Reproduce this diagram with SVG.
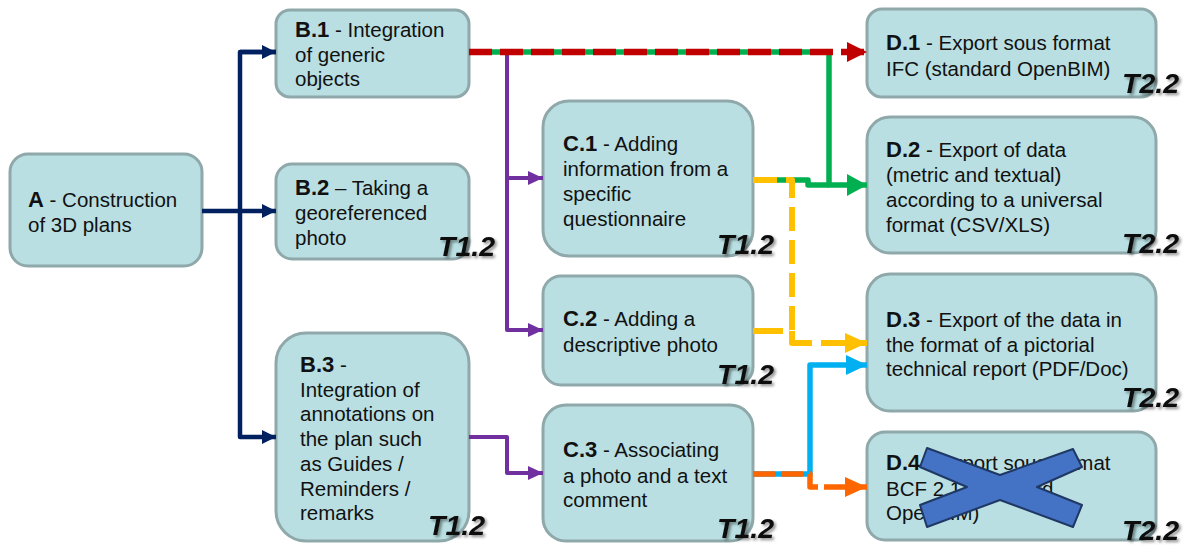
<svg xmlns="http://www.w3.org/2000/svg" width="1189" height="546" viewBox="0 0 1189 546">
<style>
.box{fill:#b9dfe2;stroke:#8fa8aa;stroke-width:3}
.t{font-family:"Liberation Sans",Arial,sans-serif;font-size:20.5px;fill:#111}
.t .b{font-weight:bold;font-size:22px}
.tag{font-family:"Liberation Sans",Arial,sans-serif;font-size:28.5px;font-weight:bold;font-style:italic;fill:#111;filter:url(#sh)}
.ln{fill:none;stroke-linejoin:round}
</style>
<defs>
<filter id="sh" x="-20%" y="-30%" width="150%" height="170%">
<feDropShadow dx="2" dy="2" stdDeviation="1.4" flood-color="#000" flood-opacity="0.45"/>
</filter>
<marker id="aN" markerUnits="userSpaceOnUse" markerWidth="15" markerHeight="15" refX="14" refY="7" orient="auto"><path d="M0,0 L14,7 L0,14 Z" fill="#002060"/></marker>
<marker id="aP" markerUnits="userSpaceOnUse" markerWidth="16" markerHeight="15" refX="15" refY="7" orient="auto"><path d="M0,0 L15,7 L0,14 Z" fill="#7030a0"/></marker>
<marker id="aR" markerUnits="userSpaceOnUse" markerWidth="21" markerHeight="21" refX="20" refY="10" orient="auto"><path d="M0,0 L20,10 L0,20 Z" fill="#c00000"/></marker>
<marker id="aG" markerUnits="userSpaceOnUse" markerWidth="21" markerHeight="23" refX="20" refY="11" orient="auto"><path d="M0,0 L20,11 L0,22 Z" fill="#00b050"/></marker>
<marker id="aY" markerUnits="userSpaceOnUse" markerWidth="23" markerHeight="21" refX="22" refY="10" orient="auto"><path d="M0,0 L22,10 L0,20 Z" fill="#ffc000"/></marker>
<marker id="aB" markerUnits="userSpaceOnUse" markerWidth="22" markerHeight="21" refX="21" refY="10" orient="auto"><path d="M0,0 L21,10 L0,20 Z" fill="#00b0f0"/></marker>
<marker id="aO" markerUnits="userSpaceOnUse" markerWidth="23" markerHeight="21" refX="22" refY="10" orient="auto"><path d="M0,0 L22,10 L0,20 Z" fill="#ff6600"/></marker>
</defs>

<g id="nA"><rect class="box" x="10" y="154" width="192" height="112" rx="18"/>
<text class="t" x="28" y="207"><tspan class="b">A</tspan> - Construction</text>
<text class="t" x="28" y="232">of 3D plans</text></g>

<g id="nB1"><rect class="box" x="276" y="10" width="193" height="87" rx="14"/>
<text class="t" x="295" y="37"><tspan class="b">B.1</tspan> - Integration</text>
<text class="t" x="295" y="62">of generic</text>
<text class="t" x="295" y="86">objects</text></g>

<g id="nB2"><rect class="box" x="276" y="164" width="193" height="95" rx="16"/>
<text class="t" x="295" y="195"><tspan class="b">B.2</tspan> – Taking a</text>
<text class="t" x="295" y="220">georeferenced</text>
<text class="t" x="295" y="245">photo</text>
<text class="tag" x="438" y="256">T1.2</text></g>

<g id="nB3"><rect class="box" x="276" y="333" width="193" height="208" rx="30"/>
<text class="t" x="300" y="372"><tspan class="b">B.3</tspan> -</text>
<text class="t" x="300" y="397">Integration of</text>
<text class="t" x="300" y="421">annotations on</text>
<text class="t" x="300" y="446">the plan such</text>
<text class="t" x="300" y="471">as Guides /</text>
<text class="t" x="300" y="496">Reminders /</text>
<text class="t" x="300" y="520">remarks</text>
<text class="tag" x="428" y="535">T1.2</text></g>

<g id="nC1"><rect class="box" x="543" y="101" width="210" height="155" rx="26"/>
<text class="t" x="563" y="151"><tspan class="b">C.1</tspan> - Adding</text>
<text class="t" x="563" y="176">information from a</text>
<text class="t" x="563" y="201">specific</text>
<text class="t" x="563" y="226">questionnaire</text>
<text class="tag" x="717" y="254">T1.2</text></g>

<g id="nC2"><rect class="box" x="543" y="276" width="210" height="109" rx="18"/>
<text class="t" x="563" y="326"><tspan class="b">C.2</tspan> - Adding a</text>
<text class="t" x="563" y="352">descriptive photo</text>
<text class="tag" x="717" y="384">T1.2</text></g>

<g id="nC3"><rect class="box" x="543" y="405" width="210" height="136" rx="23"/>
<text class="t" x="563" y="457"><tspan class="b">C.3</tspan> - Associating</text>
<text class="t" x="563" y="483">a photo and a text</text>
<text class="t" x="563" y="507">comment</text>
<text class="tag" x="717" y="538">T1.2</text></g>

<g id="nD1"><rect class="box" x="867" y="9" width="289" height="88" rx="15"/>
<text class="t" x="886" y="50"><tspan class="b">D.1</tspan> - Export sous format</text>
<text class="t" x="886" y="76">IFC (standard OpenBIM)</text>
<text class="tag" x="1122" y="93">T2.2</text></g>

<g id="nD2"><rect class="box" x="867" y="117" width="289" height="136" rx="23"/>
<text class="t" x="886" y="157"><tspan class="b">D.2</tspan> - Export of data</text>
<text class="t" x="886" y="182">(metric and textual)</text>
<text class="t" x="886" y="207">according to a universal</text>
<text class="t" x="886" y="232">format (CSV/XLS)</text>
<text class="tag" x="1122" y="253">T2.2</text></g>

<g id="nD3"><rect class="box" x="867" y="274" width="289" height="137" rx="23"/>
<text class="t" x="886" y="327"><tspan class="b">D.3</tspan> - Export of the data in</text>
<text class="t" x="886" y="352">the format of a pictorial</text>
<text class="t" x="886" y="376">technical report (PDF/Doc)</text>
<text class="tag" x="1122" y="407">T2.2</text></g>

<g id="nD4"><rect class="box" x="867" y="432" width="289" height="108" rx="18"/>
<text class="t" x="886" y="470"><tspan class="b">D.4</tspan> - Export sous format</text>
<text class="t" x="886" y="496">BCF 2.1 (standard</text>
<text class="t" x="886" y="520">OpenBIM)</text>
<path d="M927,448 L1000,475 L1073,449 L1082,467 L1037,487 L1082,505 L1073,527 L1000,500 L927,527 L920,505 L967,487 L920,467 Z" fill="#4472c4" stroke="#1f3864" stroke-width="2" stroke-linejoin="round"/>
<text class="tag" x="1122" y="540">T2.2</text></g>

<g id="connectors">
<!-- navy -->
<path class="ln" d="M202,211 H276" stroke="#002060" stroke-width="4.5" marker-end="url(#aN)"/>
<path class="ln" d="M276,52 H240 V437 H276" stroke="#002060" stroke-width="4.5" marker-end="url(#aN)"/>
<path class="ln" d="M240,52 H276" stroke="#002060" stroke-width="4.5" marker-end="url(#aN)"/>
<!-- purple -->
<path class="ln" d="M507,52 V330 H543" stroke="#7030a0" stroke-width="4" marker-end="url(#aP)"/>
<path class="ln" d="M507,178 H543" stroke="#7030a0" stroke-width="4" marker-end="url(#aP)"/>
<path class="ln" d="M469,437 H507 V473 H543" stroke="#7030a0" stroke-width="4" marker-end="url(#aP)"/>
<!-- green -->
<path class="ln" d="M469,52 H829 V185 H867" stroke="#00b050" stroke-width="5.5" marker-end="url(#aG)"/>
<path class="ln" d="M753,180 H808 V185 H829" stroke="#00b050" stroke-width="5.5"/>
<!-- red dashed -->
<path class="ln" d="M469,52 H867" stroke="#c00000" stroke-width="6.5" stroke-dasharray="23 8" marker-end="url(#aR)"/>
<!-- yellow dashed -->
<path class="ln" d="M753,180 H792 V343 H867" stroke="#ffc000" stroke-width="6" stroke-dasharray="24 9" marker-end="url(#aY)"/>
<path class="ln" d="M753,331 H792 V343" stroke="#ffc000" stroke-width="6" stroke-dasharray="30 9"/>
<!-- blue -->
<path class="ln" d="M753,474 H810 V365 H867" stroke="#00b0f0" stroke-width="5.5" marker-end="url(#aB)"/>
<!-- orange dashed -->
<path class="ln" d="M753,474 H810 V487 H867" stroke="#ff6600" stroke-width="5.5" stroke-dasharray="22 6" marker-end="url(#aO)"/>
</g>
</svg>
